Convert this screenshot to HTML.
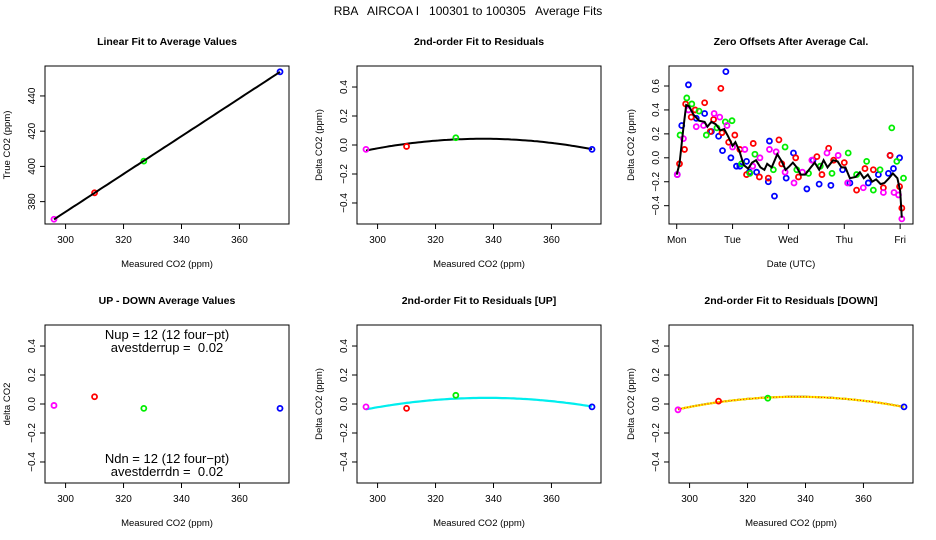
<!DOCTYPE html>
<html><head><meta charset="utf-8"><style>
body{margin:0;background:#fff;}
svg{display:block;font-family:"Liberation Sans",sans-serif;}
text{white-space:pre;}
</style></head><body>
<svg id="c" width="936" height="540" xmlns="http://www.w3.org/2000/svg">
<rect width="936" height="540" fill="#fff"/>
<text x="468" y="15" text-anchor="middle" font-size="12">RBA   AIRCOA I   100301 to 100305   Average Fits</text>
</svg>
<script>
// ---- data ----
const xMeasured = [296, 310, 327, 374];
const ptColors = ["#ff00ff", "#ff0000", "#00ee00", "#0000ff"];
const trueCO2 = [370, 385, 403, 453.7];
const resid = [-0.03, -0.01, 0.05, -0.03];
const upDown = [-0.01, 0.05, -0.03, -0.03];
const residUp = [-0.02, -0.03, 0.06, -0.02];
const residDn = [-0.04, 0.02, 0.04, -0.02];
const xTicks = [300, 320, 340, 360];
const yTicks1 = [380, 400, 420, 440];
const yTicksD = [-0.4, -0.2, 0.0, 0.2, 0.4];
const yTicksZ = [-0.4, -0.2, 0.0, 0.2, 0.4, 0.6];
const dayTicks = [0, 1, 2, 3, 4];
const dayLabels = ["Mon", "Tue", "Wed", "Thu", "Fri"];
const blueDay = [0.01,0.09,0.21,0.35,0.5,0.62,0.75,0.82,0.88,0.97,1.07,1.13,1.25,1.3,1.43,1.64,1.66,1.75,1.96,2.09,2.33,2.44,2.55,2.76,2.97,3.1,3.43,3.61,3.79,3.82,3.88,3.99];
const blueVal = [-0.14,0.27,0.61,0.33,0.37,0.22,0.18,0.06,0.72,0.0,-0.07,-0.07,-0.03,-0.12,-0.12,-0.2,0.14,-0.32,-0.17,0.04,-0.26,-0.02,-0.22,-0.23,-0.1,-0.21,-0.21,-0.14,-0.13,0.02,-0.09,0.0];
const redDay = [0.05,0.14,0.16,0.26,0.33,0.5,0.6,0.66,0.79,0.81,0.93,1.04,1.13,1.25,1.37,1.48,1.64,1.83,1.88,2.13,2.18,2.51,2.6,2.72,2.81,3.0,3.22,3.37,3.52,3.7,3.82,3.99,4.03];
const redVal = [-0.05,0.07,0.45,0.34,0.4,0.46,0.22,0.32,0.58,0.21,0.13,0.19,0.07,-0.14,0.12,-0.16,-0.17,0.15,-0.05,0.0,-0.16,0.01,-0.14,0.08,-0.02,-0.04,-0.27,-0.09,-0.1,-0.25,0.02,-0.24,-0.42];
const greenDay = [0.06,0.18,0.27,0.4,0.53,0.72,0.87,0.99,1.16,1.31,1.4,1.73,1.94,2.15,2.36,2.57,2.78,3.07,3.22,3.4,3.52,3.64,3.85,3.94,4.06];
const greenVal = [0.19,0.5,0.45,0.39,0.19,0.25,0.3,0.31,-0.05,-0.13,0.03,-0.1,0.09,-0.1,-0.13,-0.07,-0.13,0.04,-0.14,-0.03,-0.27,-0.1,0.25,-0.03,-0.17];
const magDay = [0.01,0.12,0.21,0.35,0.48,0.67,0.77,0.9,1.0,1.22,1.36,1.49,1.66,1.78,1.94,2.1,2.25,2.42,2.69,2.89,3.06,3.34,3.7,3.89,3.97,4.03];
const magVal = [-0.14,0.16,0.4,0.26,0.27,0.37,0.34,0.27,0.09,0.07,-0.07,0.0,0.07,0.05,-0.12,-0.21,-0.12,-0.02,0.04,0.02,-0.21,-0.25,-0.29,-0.29,-0.31,-0.51];
const lineDay = [0,0.05,0.12,0.17,0.22,0.3,0.4,0.5,0.55,0.62,0.7,0.78,0.85,0.92,1.0,1.05,1.12,1.2,1.28,1.35,1.42,1.5,1.57,1.62,1.7,1.8,1.88,1.95,2.02,2.08,2.15,2.22,2.3,2.4,2.47,2.55,2.63,2.7,2.8,2.88,2.95,3.02,3.1,3.2,3.28,3.35,3.42,3.5,3.57,3.65,3.72,3.8,3.87,3.95,4.0,4.03];
const lineVal = [-0.14,-0.05,0.25,0.44,0.43,0.36,0.31,0.3,0.26,0.3,0.28,0.23,0.24,0.18,0.1,0.13,0.06,-0.06,-0.09,-0.04,-0.02,-0.08,-0.1,-0.05,-0.08,0.03,-0.03,-0.1,-0.07,-0.04,-0.08,-0.14,-0.14,-0.08,-0.04,-0.1,-0.02,-0.08,-0.02,-0.03,-0.08,-0.08,-0.17,-0.16,-0.12,-0.17,-0.14,-0.2,-0.18,-0.22,-0.21,-0.17,-0.13,-0.17,-0.28,-0.5];

// ---- helpers ----
const svg = document.getElementById('c');
const NS = 'http://www.w3.org/2000/svg';
function mk(tag, attrs, parent){const e=document.createElementNS(NS,tag);for(const k in attrs)e.setAttribute(k,attrs[k]);(parent||svg).appendChild(e);return e;}
function txt(x,y,s,size,extra,parent){const e=mk('text',Object.assign({x:x,y:y,'font-size':size,'text-anchor':'middle'},extra||{}),parent);e.textContent=s;return e;}
function fitQuad(xs,ys){let S=[0,0,0,0,0],T=[0,0,0];xs.forEach((x,i)=>{const u=x-330;for(let k=0;k<5;k++)S[k]+=Math.pow(u,k);for(let k=0;k<3;k++)T[k]+=ys[i]*Math.pow(u,k);});
 const A=[[S[0],S[1],S[2],T[0]],[S[1],S[2],S[3],T[1]],[S[2],S[3],S[4],T[2]]];
 for(let i=0;i<3;i++){for(let j=i+1;j<3;j++){const f=A[j][i]/A[i][i];for(let k=i;k<4;k++)A[j][k]-=f*A[i][k];}}
 const c=[0,0,0];for(let i=2;i>=0;i--){let s=A[i][3];for(let k=i+1;k<3;k++)s-=A[i][k]*c[k];c[i]=s/A[i][i];}
 return x=>{const u=x-330;return c[0]+c[1]*u+c[2]*u*u;};}

function panel(o){
 const g=mk('g',{});
 
 
 const L=o.L,R=o.L+244,T=o.T,B=o.T+158;
 const sx=v=>L+(v-o.x0)/(o.x1-o.x0)*(R-L);
 const sy=v=>B-(v-o.y0)/(o.y1-o.y0)*(B-T);
 const t=txt((L+R)/2,T-21,o.title,10.5,{'font-weight':'bold'},g);
 
 const box=mk('rect',{x:L,y:T,width:R-L,height:B-T,fill:'none',stroke:'#000','stroke-width':1},g);
 
 const xa=mk('g',{},g);
 const xt=o.xTicks;
 mk('line',{x1:sx(xt[0]),x2:sx(xt[xt.length-1]),y1:B,y2:B,stroke:'#000'},xa);
 xt.forEach((v,i)=>{mk('line',{x1:sx(v),x2:sx(v),y1:B,y2:B+5,stroke:'#000'},xa);
  const lb=txt(sx(v),B+19,o.xLabels?o.xLabels[i]:String(v),10,{},xa);
  });
 const xtitle=txt((L+R)/2,B+43,o.xTitle,9.5,{},g);
 
 const ya=mk('g',{},g);
 const yt=o.yTicks;
 mk('line',{x1:L,x2:L,y1:sy(yt[0]),y2:sy(yt[yt.length-1]),stroke:'#000'},ya);
 yt.forEach(v=>{mk('line',{x1:L-5,x2:L,y1:sy(v),y2:sy(v),stroke:'#000'},ya);
  const s=o.yFmt?o.yFmt(v):String(v);
  const lb=txt(L-10,sy(v),s.replace('-','\u2212'),10,{transform:`rotate(-90 ${L-10} ${sy(v)})`},ya);
  });
 const ytitle=txt(L-35,(T+B)/2,o.yTitle,9.5,{transform:`rotate(-90 ${L-35} ${(T+B)/2})`},g);
 
 return {g,sx,sy,L,R,T,B};
}
function pts(p,xs,ys,col,name){xs.forEach((x,i)=>{const c=mk('circle',{cx:p.sx(x),cy:p.sy(ys[i]),r:2.5,fill:'none',stroke:col,'stroke-width':1.8},p.g);
 });}
function curve(p,f,attrs,name){let d='';for(let x=296;x<=374;x+=1){d+=(x===296?'M':'L')+p.sx(x).toFixed(1)+','+p.sy(f(x)).toFixed(1);}
 const e=mk('path',Object.assign({d:d,fill:'none'},attrs),p.g);}
const f1=v=>v.toFixed(1);
const X0=292.9,X1=377.1,D0=-0.545,D1=0.545;

// Panel 1
let p=panel({name:'linear-fit-panel',L:45,T:66,x0:X0,x1:X1,y0:367.3,y1:457,xTicks:xTicks,yTicks:yTicks1,title:'Linear Fit to Average Values',xTitle:'Measured CO2 (ppm)',yTitle:'True CO2 (ppm)'});
xMeasured.forEach((x,i)=>pts(p,[x],[trueCO2[i]],ptColors[i],'average-point'));
(function(){const n=xMeasured.length;let mx=0,my=0;xMeasured.forEach((x,i)=>{mx+=x;my+=trueCO2[i];});mx/=n;my/=n;let sxy=0,sxx=0;xMeasured.forEach((x,i)=>{sxy+=(x-mx)*(trueCO2[i]-my);sxx+=(x-mx)*(x-mx);});const b=sxy/sxx;curve(p,x=>my+b*(x-mx),{stroke:'#000','stroke-width':2},'linear-fit-line');})();

// Panel 2
p=panel({name:'residual-fit-panel',L:357,T:66,x0:X0,x1:X1,y0:D0,y1:D1,xTicks:xTicks,yTicks:yTicksD,yFmt:f1,title:'2nd-order Fit to Residuals',xTitle:'Measured CO2 (ppm)',yTitle:'Delta CO2 (ppm)'});
curve(p,fitQuad(xMeasured,resid),{stroke:'#000','stroke-width':2},'quadratic-fit-line');
xMeasured.forEach((x,i)=>pts(p,[x],[resid[i]],ptColors[i],'residual-point'));

// Panel 3
p=panel({name:'zero-offsets-panel',L:669,T:66,x0:-0.138,x1:4.23,y0:-0.553,y1:0.767,xTicks:dayTicks,xLabels:dayLabels,yTicks:yTicksZ,yFmt:f1,title:'Zero Offsets After Average Cal.',xTitle:'Date (UTC)',yTitle:'Delta CO2 (ppm)'});
pts(p,blueDay,blueVal,'#0000ff','offset-point-blue');
pts(p,redDay,redVal,'#ff0000','offset-point-red');
pts(p,greenDay,greenVal,'#00ee00','offset-point-green');
pts(p,magDay,magVal,'#ff00ff','offset-point-magenta');
(function(){let d='';lineDay.forEach((x,i)=>{d+=(i?'L':'M')+p.sx(x).toFixed(1)+','+p.sy(lineVal[i]).toFixed(1);});
 const e=mk('path',{d:d,fill:'none',stroke:'#000','stroke-width':2},p.g);
 
 })();

// Panel 4
p=panel({name:'up-down-panel',L:45,T:325,x0:X0,x1:X1,y0:D0,y1:D1,xTicks:xTicks,yTicks:yTicksD,yFmt:f1,title:'UP - DOWN Average Values',xTitle:'Measured CO2 (ppm)',yTitle:'delta CO2'});
xMeasured.forEach((x,i)=>pts(p,[x],[upDown[i]],ptColors[i],'up-down-point'));
[['Nup = 12 (12 four\u2212pt)',339],['avestderrup =  0.02',352],['Ndn = 12 (12 four\u2212pt)',463],['avestderrdn =  0.02',476]].forEach(a=>{
 const e=txt(167,a[1],a[0],13,{},p.g);
 
 });

// Panel 5
p=panel({name:'residual-up-panel',L:357,T:325,x0:X0,x1:X1,y0:D0,y1:D1,xTicks:xTicks,yTicks:yTicksD,yFmt:f1,title:'2nd-order Fit to Residuals [UP]',xTitle:'Measured CO2 (ppm)',yTitle:'Delta CO2 (ppm)'});
curve(p,fitQuad(xMeasured,residUp),{stroke:'#000','stroke-width':1.5,'stroke-dasharray':'3 5'},'fit-line-black');
curve(p,fitQuad(xMeasured,residUp),{stroke:'#00eeee','stroke-width':2.2},'fit-line-up');
xMeasured.forEach((x,i)=>pts(p,[x],[residUp[i]],ptColors[i],'residual-up-point'));

// Panel 6
p=panel({name:'residual-down-panel',L:669,T:325,x0:X0,x1:X1,y0:D0,y1:D1,xTicks:xTicks,yTicks:yTicksD,yFmt:f1,title:'2nd-order Fit to Residuals [DOWN]',xTitle:'Measured CO2 (ppm)',yTitle:'Delta CO2 (ppm)'});
curve(p,fitQuad(xMeasured,residDn),{stroke:'#000','stroke-width':2},'fit-line-black');
curve(p,fitQuad(xMeasured,residDn),{stroke:'#ffee00','stroke-width':2.2},'fit-line-down');
curve(p,fitQuad(xMeasured,residDn),{stroke:'#ff0000','stroke-width':1,'stroke-dasharray':'1 2'},'fit-line-down-dotted');
xMeasured.forEach((x,i)=>pts(p,[x],[residDn[i]],ptColors[i],'residual-down-point'));
</script>
</body></html>
